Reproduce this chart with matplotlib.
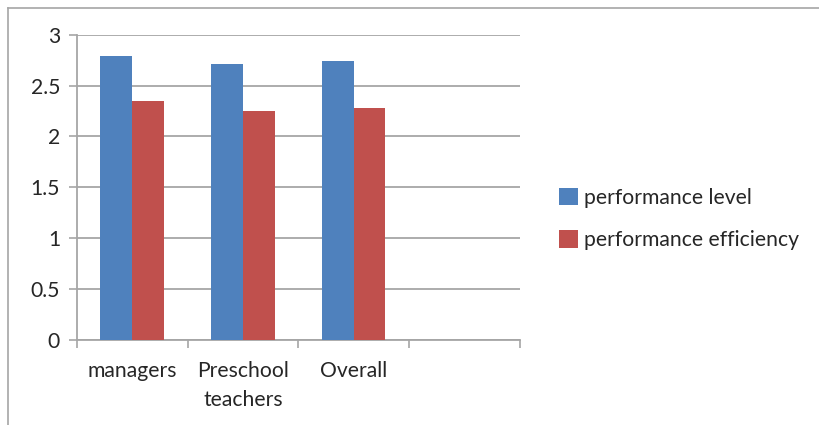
import matplotlib
matplotlib.use("Agg")
import matplotlib.pyplot as plt
import numpy as np
from matplotlib.lines import Line2D

categories = ["managers", "Preschool\nteachers", "Overall", ""]
series_names = ["performance level", "performance efficiency"]
perf_level = [2.79, 2.71, 2.74]
perf_efficiency = [2.35, 2.25, 2.28]
y_ticks = [0, 0.5, 1, 1.5, 2, 2.5, 3]
y_tick_labels = ["0", "0.5", "1", "1.5", "2", "2.5", "3"]

plt.rcParams['font.family'] = ['Lato', 'DejaVu Sans']
colors = ["#4F81BD", "#C0504D"]
grid_col = "#a6a6a6"
txt_col = "#262626"
fs = 15.2

fig = plt.figure(figsize=(8.19, 4.25), dpi=100)
# outer chart border (top and left visible)
fig.add_artist(Line2D([8/819, 8/819], [0, 1 - 8/425], transform=fig.transFigure, color="#a6a6a6", lw=1.2))
fig.add_artist(Line2D([8/819, 1], [1 - 8/425, 1 - 8/425], transform=fig.transFigure, color="#a6a6a6", lw=1.2))

ax = fig.add_axes([76.7/819, 85/425, (520 - 76.7)/819, (340 - 34.7)/425])
n = len(perf_level)
x = np.arange(n)
w = 0.286
ax.bar(x - w/2, perf_level, width=w, color=colors[0], label=series_names[0], zorder=3)
ax.bar(x + w/2, perf_efficiency, width=w, color=colors[1], label=series_names[1], zorder=3)

ax.set_xlim(-0.5, len(categories) - 0.5)
ax.set_ylim(0, 3)
ax.set_yticks(y_ticks)
ax.set_yticklabels(y_tick_labels, fontsize=fs, color=txt_col)
ax.yaxis.grid(True, color=grid_col, lw=1.3, zorder=0)
ax.tick_params(axis="y", length=6, color=grid_col, width=1.2, pad=6)

ax.set_xticks(np.arange(len(categories)))
ax.set_xticklabels(categories, fontsize=fs, color=txt_col, linespacing=1.55)
ax.tick_params(axis="x", length=0, pad=15)
ax.set_xticks(np.arange(len(categories) + 1) - 0.5, minor=True)
ax.tick_params(axis="x", which="minor", length=6, color=grid_col, width=1.2)

for s in ["top", "right"]:
    ax.spines[s].set_visible(False)
for s in ["left", "bottom"]:
    ax.spines[s].set_color(grid_col)
    ax.spines[s].set_linewidth(1.3)

leg = fig.legend(loc="center left", bbox_to_anchor=(540/819, 1 - 219/425), frameon=False,
                 fontsize=fs, handlelength=0.9, handleheight=0.9, handletextpad=0.3,
                 labelspacing=1.05)
for t in leg.get_texts():
    t.set_color(txt_col)

fig.savefig("out.png", dpi=100)
